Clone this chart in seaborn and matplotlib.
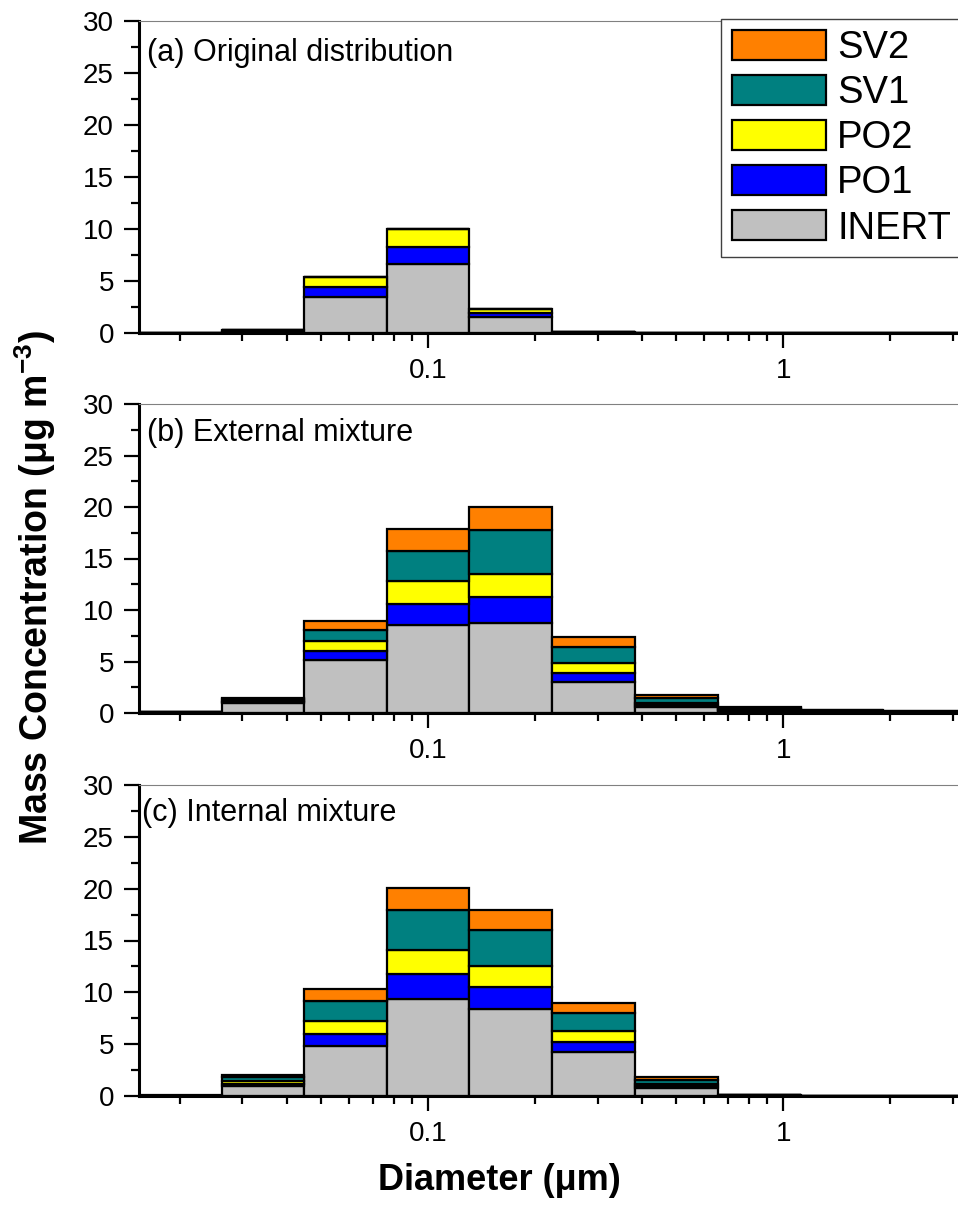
import numpy as np
import pandas as pd
import matplotlib
matplotlib.use("Agg")
import matplotlib.pyplot as plt
import matplotlib.ticker as mticker
from matplotlib.patches import Patch
import seaborn as sns

# size bin edges (um), log spaced
bin_edges = [0.01535, 0.0263, 0.0448, 0.0767, 0.1305, 0.2235, 0.383, 0.655, 1.12, 1.91, 3.27]

species = ["SV2", "SV1", "PO2", "PO1", "INERT"]
colors = {"SV2": "#FF8000", "SV1": "#008080", "PO2": "#FFFF00", "PO1": "#0000FF", "INERT": "#C0C0C0"}

# (a) original distribution
orig_inert = [0.03, 0.22, 3.5, 6.6, 1.55, 0.07, 0.01, 0.0, 0.0, 0.0]
orig_po1 = [0.0, 0.05, 0.9, 1.7, 0.4, 0.02, 0.0, 0.0, 0.0, 0.0]
orig_po2 = [0.0, 0.05, 0.95, 1.7, 0.4, 0.02, 0.0, 0.0, 0.0, 0.0]
orig_sv1 = [0.0, 0.0, 0.0, 0.0, 0.0, 0.0, 0.0, 0.0, 0.0, 0.0]
orig_sv2 = [0.0, 0.0, 0.0, 0.0, 0.0, 0.0, 0.0, 0.0, 0.0, 0.0]

# (b) external mixture
ext_inert = [0.05, 1.0, 5.15, 8.5, 8.7, 3.0, 0.6, 0.15, 0.05, 0.02]
ext_po1 = [0.01, 0.1, 0.87, 2.05, 2.6, 0.93, 0.2, 0.1, 0.05, 0.04]
ext_po2 = [0.01, 0.1, 1.0, 2.25, 2.2, 0.97, 0.2, 0.1, 0.05, 0.04]
ext_sv1 = [0.02, 0.15, 1.08, 2.9, 4.3, 1.5, 0.45, 0.15, 0.1, 0.06]
ext_sv2 = [0.01, 0.1, 0.86, 2.2, 2.2, 0.97, 0.25, 0.1, 0.05, 0.06]

# (c) internal mixture
int_inert = [0.03, 0.95, 4.8, 9.4, 8.4, 4.2, 0.75, 0.06, 0.01, 0.01]
int_po1 = [0.005, 0.25, 1.2, 2.4, 2.1, 1.05, 0.2, 0.01, 0.0, 0.0]
int_po2 = [0.005, 0.2, 1.2, 2.3, 2.05, 1.05, 0.2, 0.01, 0.0, 0.0]
int_sv1 = [0.005, 0.4, 2.0, 3.8, 3.45, 1.75, 0.4, 0.01, 0.0, 0.0]
int_sv2 = [0.005, 0.25, 1.1, 2.2, 1.9, 0.9, 0.25, 0.01, 0.0, 0.0]

panel_titles = ["(a) Original distribution", "(b) External mixture", "(c) Internal mixture"]
panels = [
    {"SV2": orig_sv2, "SV1": orig_sv1, "PO2": orig_po2, "PO1": orig_po1, "INERT": orig_inert},
    {"SV2": ext_sv2, "SV1": ext_sv1, "PO2": ext_po2, "PO1": ext_po1, "INERT": ext_inert},
    {"SV2": int_sv2, "SV1": int_sv1, "PO2": int_po2, "PO1": int_po1, "INERT": int_inert},
]

sns.set_style("ticks", {"text.color": "black", "axes.labelcolor": "black",
                        "xtick.color": "black", "ytick.color": "black"})
plt.rcParams["font.family"] = ["Liberation Sans", "DejaVu Sans"]
plt.rcParams["mathtext.fontset"] = "custom"
plt.rcParams["mathtext.rm"] = "Liberation Sans"
plt.rcParams["mathtext.bf"] = "Liberation Sans:bold"

edges = np.array(bin_edges)
centers = np.sqrt(edges[:-1] * edges[1:])
log_bins = [float(v) for v in np.log10(edges)]

W, H = 958, 1205
fig = plt.figure(figsize=(W / 100, H / 100), dpi=100)

# axes boxes in pixels: (top, bottom)
boxes = [(21, 333), (404, 713), (785, 1096)]
ax_left, ax_right = 139, 966
text_pos = [(0.010, 0.872), (0.010, 0.880), (0.004, 0.884)]

for i, (comp, title) in enumerate(zip(panels, panel_titles)):
    top, bot = boxes[i]
    ax = fig.add_axes([ax_left / W, 1 - bot / H, (ax_right - ax_left) / W, (bot - top) / H])

    rows = []
    for sp in species:
        for c, v in zip(centers, comp[sp]):
            rows.append({"diameter": c, "mass": v, "species": sp})
    df = pd.DataFrame(rows)

    sns.histplot(data=df, x="diameter", weights="mass", hue="species", hue_order=species,
                 palette=colors, multiple="stack", bins=log_bins, log_scale=True,
                 element="bars", fill=True, alpha=1, edgecolor="black", linewidth=1.6,
                 shrink=1, legend=False, ax=ax)

    ax.set_xlim(edges[0], edges[-1])
    ax.set_ylim(0, 30)
    ax.set_xlabel("")
    ax.set_ylabel("")

    ax.yaxis.set_major_locator(mticker.MultipleLocator(5))
    ax.yaxis.set_minor_locator(mticker.MultipleLocator(2.5))
    ax.xaxis.set_major_locator(mticker.LogLocator(base=10))
    ax.xaxis.set_minor_locator(mticker.LogLocator(base=10, subs=np.arange(2, 10)))
    ax.xaxis.set_major_formatter(mticker.FuncFormatter(lambda v, _: f"{v:g}"))
    ax.xaxis.set_minor_formatter(mticker.NullFormatter())

    ax.tick_params(axis="both", which="major", direction="out", length=11, width=1.6,
                   labelsize=20, pad=7, color="black", labelcolor="black")
    ax.tick_params(axis="both", which="minor", direction="out", length=5.5, width=1.6, color="black")
    ax.tick_params(top=False, right=False, which="both")

    for s in ["left", "bottom"]:
        ax.spines[s].set_linewidth(2.2)
        ax.spines[s].set_color("black")
    ax.spines["top"].set_linewidth(0.8)
    ax.spines["top"].set_color("#808080")
    ax.spines["right"].set_visible(False)

    tx, ty = text_pos[i]
    ax.text(tx, ty, title, transform=ax.transAxes, fontsize=22, ha="left", va="baseline",
            color="black")

    if i == 0:
        handles = [Patch(facecolor=colors[sp], edgecolor="black", linewidth=1.6, label=sp)
                   for sp in species]
        leg = ax.legend(handles=handles, loc="upper left",
                        bbox_to_anchor=(721 / W, 1 - 19 / H), bbox_transform=fig.transFigure,
                        borderaxespad=0, fontsize=27.5, handlelength=2.46, handleheight=0.84,
                        handletextpad=0.3, labelspacing=0.23, borderpad=0.28,
                        fancybox=False, framealpha=1, edgecolor="#404040")
        leg.get_frame().set_linewidth(1.0)
        for t in leg.get_texts():
            t.set_color("black")

fig.text(35 / W, 1 - 588 / H, r"Mass Concentration (μg m$^{\mathbf{-3}}$)", rotation=90,
         ha="center", va="center", fontsize=27, fontweight="bold", color="black")
fig.text(499 / W, 1 - 1180 / H, "Diameter (μm)", ha="center", va="center",
         fontsize=26, fontweight="bold", color="black")

fig.savefig("out.png", dpi=100)
